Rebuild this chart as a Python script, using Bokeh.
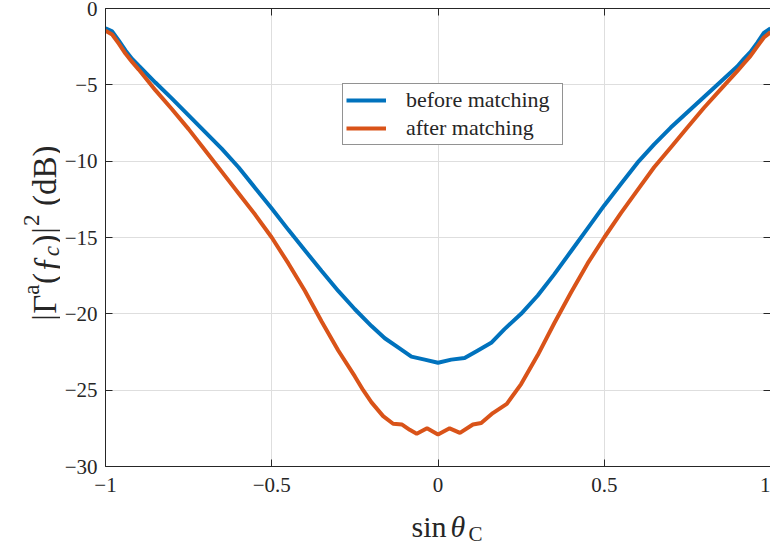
import numpy as np
from bokeh.plotting import figure
from bokeh.layouts import row, column
from bokeh.models import (Range1d, FixedTicker, LinearAxis, Legend, LegendItem)
from bokeh.embed import file_html
from bokeh.resources import INLINE

# ---- data ----
x_before = [-1.00, -0.98, -0.96, -0.94, -0.92, -0.90, -0.85, -0.80, -0.75, -0.70, -0.65,
            -0.60, -0.55, -0.50, -0.45, -0.40, -0.35, -0.30, -0.25, -0.20, -0.16, -0.12,
            -0.08, -0.04, 0.00, 0.04, 0.08, 0.12, 0.16, 0.20, 0.25, 0.30, 0.35, 0.40,
            0.45, 0.50, 0.55, 0.60, 0.65, 0.70, 0.75, 0.80, 0.85, 0.90, 0.92, 0.94,
            0.96, 0.98, 1.00]
y_before = [-1.30, -1.50, -2.10, -2.75, -3.30, -3.75, -4.85, -5.90, -7.00, -8.10, -9.20,
            -10.40, -11.75, -13.10, -14.50, -15.85, -17.20, -18.50, -19.70, -20.80, -21.60, -22.20,
            -22.80, -23.00, -23.20, -23.00, -22.90, -22.40, -21.90, -21.00, -20.00, -18.80, -17.40, -15.90,
            -14.40, -12.90, -11.50, -10.10, -8.90, -7.80, -6.80, -5.80, -4.80, -3.80, -3.30, -2.85,
            -2.25, -1.60, -1.30]

x_after = [-1.00, -0.98, -0.96, -0.94, -0.92, -0.90, -0.85, -0.80, -0.75, -0.70, -0.65,
           -0.60, -0.55, -0.50, -0.45, -0.40, -0.35, -0.30, -0.25, -0.225, -0.20, -0.165,
           -0.135, -0.108, -0.085, -0.064, -0.033, 0.00, 0.035, 0.066, 0.105, 0.13, 0.165,
           0.207, 0.25, 0.30, 0.35, 0.40, 0.45, 0.50, 0.55, 0.60, 0.65, 0.70, 0.75,
           0.80, 0.85, 0.90, 0.92, 0.94, 0.96, 0.98, 1.00]
y_after = [-1.45, -1.70, -2.30, -2.95, -3.50, -4.00, -5.35, -6.60, -7.90, -9.30, -10.70,
           -12.10, -13.50, -15.00, -16.70, -18.50, -20.50, -22.40, -24.10, -25.00, -25.80, -26.70,
           -27.20, -27.25, -27.60, -27.85, -27.50, -27.90, -27.50, -27.80, -27.25, -27.15, -26.50,
           -25.90, -24.60, -22.70, -20.60, -18.60, -16.70, -15.00, -13.40, -11.90, -10.40, -9.10, -7.80,
           -6.50, -5.30, -4.10, -3.60, -3.10, -2.50, -1.90, -1.55]

x_ticks = [-1, -0.5, 0, 0.5, 1]
x_tick_labels = ["\u22121", "\u22120.5", "0", "0.5", "1"]
y_ticks = [-30, -25, -20, -15, -10, -5, 0]
y_tick_labels = ["\u221230", "\u221225", "\u221220", "\u221215", "\u221210", "\u22125", "0"]
series_names = ["before matching", "after matching"]
series_colors = ["#0072BD", "#D95319"]

FONT = "Liberation Serif"
AX = "#262626"

# ---- layout sizes (page pixels) ----
W, H = 770, 546
YL_W = 60          # strip holding the y-axis label
XL_H = 40          # strip holding the x-axis label
MAIN_W, MAIN_H = W - YL_W, H - XL_H

p = figure(width=MAIN_W, height=MAIN_H, output_backend="svg", toolbar_location=None,
           x_range=Range1d(-1, 1), y_range=Range1d(-30, 0),
           min_border_left=105 - YL_W, min_border_right=0, min_border_top=8,
           min_border_bottom=MAIN_H - 466)
p.outline_line_color = None
p.background_fill_color = "white"
p.border_fill_color = "white"

def style_axis(ax, ticks, labels, show_labels=True):
    ax.ticker = FixedTicker(ticks=ticks)
    ax.major_label_overrides = {t: l for t, l in zip(ticks, labels)}
    ax.axis_line_color = AX
    ax.axis_line_width = 1
    ax.major_tick_line_color = AX
    ax.major_tick_in = 7
    ax.major_tick_out = 0
    ax.minor_tick_line_color = None
    ax.major_label_text_font = FONT
    ax.major_label_text_color = AX
    if show_labels:
        ax.major_label_text_font_size = "21px"
    else:
        ax.major_label_text_font_size = "0px"
        ax.major_label_standoff = 0

style_axis(p.xaxis[0], x_ticks, x_tick_labels)
p.xaxis[0].major_label_standoff = 11
style_axis(p.yaxis[0], y_ticks, y_tick_labels)
p.yaxis[0].major_label_standoff = 8

top_ax = LinearAxis()
style_axis(top_ax, x_ticks, x_tick_labels, show_labels=False)
p.add_layout(top_ax, "above")
right_ax = LinearAxis()
style_axis(right_ax, y_ticks, y_tick_labels, show_labels=False)
p.add_layout(right_ax, "right")

p.xgrid.ticker = FixedTicker(ticks=x_ticks)
p.ygrid.ticker = FixedTicker(ticks=y_ticks)
p.xgrid.grid_line_color = "#dedede"
p.ygrid.grid_line_color = "#dedede"

r1 = p.line(x_before, y_before, line_color=series_colors[0], line_width=4)
r2 = p.line(x_after, y_after, line_color=series_colors[1], line_width=4)

legend = Legend(items=[LegendItem(label=series_names[0], renderers=[r1]),
                       LegendItem(label=series_names[1], renderers=[r2])],
                location=(237, 321))
legend.label_text_font = FONT
legend.label_text_font_size = "22px"
legend.label_text_color = AX
legend.glyph_width = 40
legend.label_standoff = 20
legend.label_width = 153
legend.padding = 3
legend.spacing = 2
legend.margin = 0
legend.border_line_color = AX
legend.border_line_width = 1
legend.background_fill_alpha = 1
p.add_layout(legend, "center")

# ---- helper strips for the axis labels (text with super/subscripts) ----
def strip(w, h):
    f = figure(width=w, height=h, output_backend="svg", toolbar_location=None,
               x_range=Range1d(0, w), y_range=Range1d(h, 0),
               x_axis_type=None, y_axis_type=None,
               min_border=0, min_border_left=0, min_border_right=0,
               min_border_top=0, min_border_bottom=0)
    f.outline_line_color = None
    f.background_fill_color = "white"
    f.border_fill_color = "white"
    f.grid.visible = False
    return f

# y label: |Γ^a(f_c)|^2 (dB), written bottom-to-top
yl = strip(YL_W, MAIN_H)
pieces = [  # text, font px, style, baseline x, advance (em)
    ("|", 33, "normal", 44, 0.20),
    ("\u0393", 33, "normal", 44, 0.60),
    ("a", 23, "normal", 31, 0.46),
    ("(", 33, "normal", 44, 0.36),
    ("\u0192", 33, "normal", 44, 0.50),
    ("c", 23, "italic", 51, 0.46),
    (")", 33, "normal", 44, 0.36),
    ("|", 33, "normal", 44, 0.22),
    ("2", 23, "normal", 31, 0.52),
    ("(dB)", 33, "normal", 44, 1.83),
]
ypos = 345.0
gap = 1.2
for txt, size, style, bx, adv in pieces:
    if txt == "(dB)":
        ypos -= 9
    yl.text(x=[bx], y=[ypos], text=[txt], angle=np.pi / 2,
            text_font=FONT, text_font_size=f"{size}px", text_font_style=style,
            text_color=AX, text_align="left", text_baseline="alphabetic")
    ypos -= adv * size + gap

# x label: sin θ_C
xl = strip(W, XL_H)
xl.text(x=[411], y=[20], text=["sin"], text_font=FONT, text_font_size="30px",
        text_color=AX, text_align="left", text_baseline="alphabetic")
xl.text(x=[450], y=[20], text=["\u03b8"], text_font=FONT, text_font_size="30px",
        text_font_style="italic", text_color=AX, text_align="left", text_baseline="alphabetic")
xl.text(x=[468], y=[27], text=["C"], text_font=FONT, text_font_size="21px",
        text_color=AX, text_align="left", text_baseline="alphabetic")

layout = column(row(yl, p, spacing=0), xl, spacing=0)
open("out.html", "w").write(file_html(layout, INLINE))
